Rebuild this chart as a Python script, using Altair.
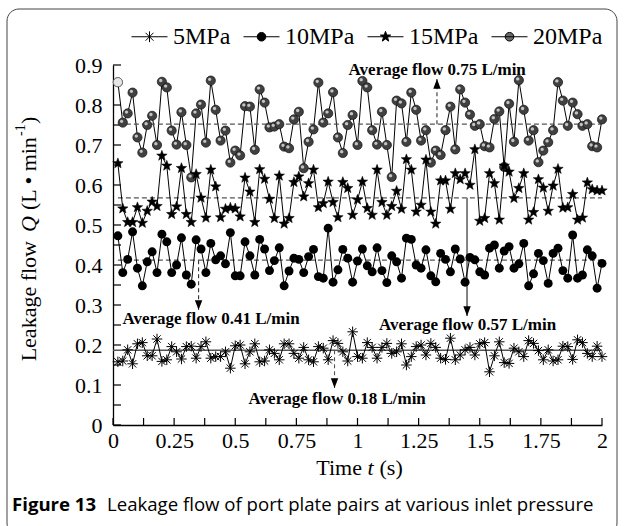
import math
import altair as alt
import pandas as pd

# ---------------- data ----------------
t_s = [round(0.02 * k, 2) for k in range(1, 101)]

q_5 = [0.158, 0.160, 0.188, 0.153, 0.203, 0.206, 0.173, 0.173, 0.215, 0.159,
       0.163, 0.196, 0.183, 0.165, 0.196, 0.197, 0.167, 0.196, 0.208, 0.167,
       0.171, 0.171, 0.183, 0.142, 0.198, 0.200, 0.153, 0.183, 0.203, 0.158,
       0.160, 0.188, 0.179, 0.163, 0.203, 0.203, 0.179, 0.167, 0.194, 0.163,
       0.158, 0.196, 0.192, 0.163, 0.211, 0.204, 0.183, 0.160, 0.233, 0.171,
       0.167, 0.206, 0.194, 0.167, 0.194, 0.204, 0.179, 0.183, 0.203, 0.150,
       0.171, 0.196, 0.200, 0.175, 0.204, 0.194, 0.167, 0.164, 0.217, 0.163,
       0.175, 0.188, 0.194, 0.175, 0.203, 0.206, 0.133, 0.173, 0.208, 0.156,
       0.154, 0.192, 0.183, 0.171, 0.211, 0.204, 0.186, 0.163, 0.188, 0.160,
       0.163, 0.197, 0.196, 0.164, 0.213, 0.206, 0.179, 0.171, 0.197, 0.171]

q_10 = [0.473, 0.381, 0.414, 0.483, 0.392, 0.348, 0.408, 0.433, 0.381, 0.477,
        0.458, 0.381, 0.400, 0.468, 0.375, 0.352, 0.463, 0.440, 0.381, 0.454,
        0.413, 0.423, 0.403, 0.481, 0.373, 0.373, 0.458, 0.423, 0.375, 0.464,
        0.440, 0.386, 0.411, 0.443, 0.348, 0.385, 0.417, 0.414, 0.381, 0.421,
        0.439, 0.371, 0.367, 0.492, 0.357, 0.388, 0.439, 0.417, 0.357, 0.410,
        0.440, 0.398, 0.383, 0.443, 0.386, 0.356, 0.423, 0.408, 0.367, 0.467,
        0.464, 0.400, 0.392, 0.438, 0.373, 0.358, 0.429, 0.414, 0.383, 0.440,
        0.415, 0.357, 0.419, 0.413, 0.383, 0.375, 0.442, 0.450, 0.392, 0.435,
        0.446, 0.392, 0.403, 0.454, 0.348, 0.378, 0.429, 0.411, 0.354, 0.429,
        0.442, 0.386, 0.367, 0.475, 0.367, 0.375, 0.438, 0.423, 0.342, 0.404]

q_15 = [0.654, 0.541, 0.507, 0.507, 0.544, 0.505, 0.535, 0.558, 0.547, 0.673,
        0.648, 0.527, 0.546, 0.642, 0.527, 0.507, 0.627, 0.568, 0.518, 0.638,
        0.596, 0.519, 0.540, 0.543, 0.541, 0.521, 0.618, 0.583, 0.507, 0.639,
        0.615, 0.565, 0.517, 0.623, 0.503, 0.517, 0.607, 0.621, 0.571, 0.604,
        0.638, 0.544, 0.554, 0.608, 0.557, 0.519, 0.607, 0.592, 0.525, 0.563,
        0.608, 0.542, 0.525, 0.638, 0.557, 0.525, 0.547, 0.585, 0.540, 0.664,
        0.638, 0.533, 0.550, 0.663, 0.533, 0.503, 0.611, 0.611, 0.540, 0.629,
        0.614, 0.629, 0.600, 0.689, 0.510, 0.517, 0.629, 0.604, 0.513, 0.648,
        0.633, 0.567, 0.592, 0.629, 0.513, 0.532, 0.614, 0.593, 0.535, 0.598,
        0.640, 0.543, 0.544, 0.577, 0.513, 0.518, 0.606, 0.589, 0.586, 0.586]

q_20 = [0.857, 0.756, 0.779, 0.831, 0.719, 0.681, 0.750, 0.773, 0.700, 0.858,
        0.844, 0.736, 0.701, 0.782, 0.700, 0.619, 0.779, 0.801, 0.706, 0.861,
        0.788, 0.711, 0.736, 0.656, 0.686, 0.674, 0.797, 0.796, 0.688, 0.839,
        0.806, 0.744, 0.746, 0.752, 0.696, 0.692, 0.764, 0.783, 0.642, 0.708,
        0.739, 0.856, 0.756, 0.779, 0.832, 0.719, 0.680, 0.750, 0.775, 0.700,
        0.860, 0.844, 0.737, 0.701, 0.783, 0.700, 0.620, 0.811, 0.804, 0.708,
        0.831, 0.788, 0.711, 0.737, 0.656, 0.686, 0.675, 0.737, 0.796, 0.689,
        0.839, 0.806, 0.776, 0.748, 0.752, 0.697, 0.694, 0.765, 0.784, 0.645,
        0.803, 0.708, 0.862, 0.788, 0.711, 0.737, 0.657, 0.686, 0.707, 0.737,
        0.857, 0.811, 0.748, 0.806, 0.777, 0.748, 0.752, 0.697, 0.694, 0.764]

series = ["5MPa", "10MPa", "15MPa", "20MPa"]

avg_series = ["5MPa", "10MPa", "15MPa", "20MPa"]
avg_values = [0.187, 0.412, 0.568, 0.752]
avg_t0 = [0.0, 0.02, 0.02, 0.02]
avg_t1 = [2.0, 2.0, 2.0, 2.0]

ann_labels = ["Average flow 0.18 L/min", "Average flow 0.41 L/min",
              "Average flow 0.57 L/min", "Average flow 0.75 L/min"]
ann_tx = [0.917, 0.401, 1.45, 1.326]
ann_ty = [0.066, 0.264, 0.250, 0.8875]
arrow_t = [0.906, 0.350, 1.448, 1.325]
arrow_from = [0.187, 0.412, 0.568, 0.752]
arrow_tip = [0.0925, 0.2875, 0.2725, 0.865]

x_label_vals = [0, 0.25, 0.5, 0.75, 1, 1.25, 1.5, 1.75, 2]
x_tick_vals = [round(0.125 * i, 3) for i in range(17)]
y_label_vals = [round(0.1 * i, 1) for i in range(10)]
y_tick_vals = [round(0.05 * i, 2) for i in range(19)]

# ---------------- frames ----------------
frames = [pd.DataFrame({"t": t_s, "q": v, "series": n})
          for n, v in zip(series, [q_5, q_10, q_15, q_20])]
df = pd.concat(frames, ignore_index=True)

avg_df = pd.DataFrame({"series": avg_series, "q": avg_values, "t0": avg_t0, "t1": avg_t1})
ann_df = pd.DataFrame({"label": ann_labels, "tx": ann_tx, "ty": ann_ty,
                       "at": arrow_t, "a0": arrow_from, "a1": arrow_tip,
                       "key": series})

W, H = 489, 360
LEFT, TOP = 113, 65
SERIF = "Liberation Serif"

xs = alt.Scale(domain=[0, 2], nice=False, zero=False)
ys = alt.Scale(domain=[0, 0.9], nice=False, zero=False)

XAX = alt.Axis(values=x_label_vals, format=".2~f", ticks=False, tickSize=0,
               labelPadding=5, domain=True, domainColor="black", domainWidth=1.3,
               title=None, labelFlush=False, labelOverlap=False, grid=False,
               orient="bottom")
YAX = alt.Axis(values=y_label_vals, format=".1~f", ticks=False, tickSize=0,
               labelPadding=11, domain=True, domainColor="black", domainWidth=1.3,
               title=None, labelFlush=False, labelOverlap=False, grid=False,
               orient="left")


def X(field):
    return alt.X(field, scale=xs, axis=XAX)


def Y(field):
    return alt.Y(field, scale=ys, axis=YAX)


def xy():
    return dict(x=X("t:Q"), y=Y("q:Q"))


base = alt.Chart(df)


def sub(name):
    return base.transform_filter(alt.datum.series == name)


def circ(r, cx=0.0, cy=0.0):
    return (f"M{cx - r:.3f},{cy:.3f}A{r},{r} 0 1 0 {cx + r:.3f},{cy:.3f}"
            f"A{r},{r} 0 1 0 {cx - r:.3f},{cy:.3f}Z")


def star_path(ro, ri):
    pts = []
    for i in range(10):
        r = ro if i % 2 == 0 else ri
        a = -math.pi / 2 + i * math.pi / 5
        pts.append(f"{r * math.cos(a):.3f},{r * math.sin(a):.3f}")
    return "M" + "L".join(pts) + "Z"


asterisk = "M-1,0H1M0,-1V1M-0.7,-0.7L0.7,0.7M-0.7,0.7L0.7,-0.7"
highlight = circ(0.36, -0.25, -0.28)
star_shape = star_path(1.0, 0.42)

# inward ticks as rules at the tick values
xtick_df = pd.DataFrame({"v": x_tick_vals})
ytick_df = pd.DataFrame({"v": y_tick_vals})
xticks = alt.Chart(xtick_df).mark_rule(color="black", strokeWidth=1.2).encode(
    x=X("v:Q"), y=alt.value(H), y2=alt.value(H - 7))
yticks = alt.Chart(ytick_df).mark_rule(color="black", strokeWidth=1.2).encode(
    y=Y("v:Q"), x=alt.value(0), x2=alt.value(8))

line20 = sub("20MPa").mark_line(color="black", strokeWidth=1).encode(**xy())
pts20 = sub("20MPa").mark_point(shape="circle", filled=True, fill="#404040", stroke="#111",
                                strokeWidth=0.7, size=85, opacity=1).encode(**xy())
hl20 = sub("20MPa").mark_point(shape=highlight, filled=True, fill="#c4c4c4", strokeWidth=0,
                               size=85, opacity=1).encode(**xy())
first20 = sub("20MPa").transform_filter(alt.datum.t < 0.03).mark_point(
    shape="circle", filled=True, fill="#e6e6e6", stroke="#777", strokeWidth=1, size=85,
    opacity=1).encode(**xy())
line15 = sub("15MPa").mark_line(color="black", strokeWidth=1).encode(**xy())
pts15 = sub("15MPa").mark_point(shape=star_shape, filled=True, fill="black", stroke="black",
                                strokeWidth=0.5, size=121, opacity=1).encode(**xy())
line10 = sub("10MPa").mark_line(color="black", strokeWidth=1).encode(**xy())
pts10 = sub("10MPa").mark_point(shape="circle", filled=True, fill="black", size=80,
                                opacity=1).encode(**xy())
line5 = sub("5MPa").mark_line(color="black", strokeWidth=1).encode(**xy())
pts5 = sub("5MPa").mark_point(shape=asterisk, filled=False, stroke="black", strokeWidth=1,
                              size=110, opacity=1).encode(**xy())

# average lines
avg_base = alt.Chart(avg_df)
avg_dashed = avg_base.transform_filter(alt.datum.series != "5MPa").mark_rule(
    color="#555", strokeWidth=1.3, strokeDash=[5, 3]).encode(
    x=X("t0:Q"), x2="t1:Q", y=Y("q:Q"))
avg_solid = avg_base.transform_filter(alt.datum.series == "5MPa").mark_rule(
    color="#555", strokeWidth=1.6).encode(
    x=X("t0:Q"), x2="t1:Q", y=Y("q:Q"))

# annotation arrows
ann_base = alt.Chart(ann_df)
arrow_enc = dict(x=X("at:Q"), y=Y("a0:Q"), y2="a1:Q")
arr_dash_dark = ann_base.transform_filter(
    (alt.datum.key == "10MPa") | (alt.datum.key == "20MPa")).mark_rule(
    color="#333", strokeWidth=1.1, strokeDash=[4, 3]).encode(**arrow_enc)
arr_dash_gray = ann_base.transform_filter(alt.datum.key == "5MPa").mark_rule(
    color="#555", strokeWidth=1.1, strokeDash=[4, 3]).encode(**arrow_enc)
arr_solid = ann_base.transform_filter(alt.datum.key == "15MPa").mark_rule(
    color="#808080", strokeWidth=2).encode(**arrow_enc)
head_down = ann_base.transform_filter(alt.datum.key != "20MPa").mark_point(
    shape="M0,0L-0.38,-1L0.38,-1Z", filled=True, fill="black", size=380, opacity=1).encode(
    x=X("at:Q"), y=Y("a1:Q"))
head_up = ann_base.transform_filter(alt.datum.key == "20MPa").mark_point(
    shape="M0,0L-0.38,1L0.38,1Z", filled=True, fill="black", size=380, opacity=1).encode(
    x=X("at:Q"), y=Y("a1:Q"))
ann_text = ann_base.mark_text(font=SERIF, fontSize=17, fontWeight="bold", color="black",
                              align="center", baseline="middle").encode(
    x=X("tx:Q"), y=Y("ty:Q"), text="label:N")

# legend (built by Vega-Lite from shape / fill / stroke scales)
leg_line = "M-1,0H1"
legend_paths = [
    leg_line + "M0,-0.3V0.3M-0.22,-0.22L0.22,0.22M-0.22,0.22L0.22,-0.22",
    leg_line + circ(0.24),
    leg_line + star_path(0.3, 0.12),
    leg_line + circ(0.24),
]
legend_fills = ["black", "black", "black", "#6a6a6a"]
leg_props = dict(title=None, orient="none", legendX=18, legendY=-47, direction="horizontal",
                 columns=4, symbolSize=1296, symbolStrokeWidth=1,
                 labelFont=SERIF, labelFontSize=24, labelColor="black", labelOffset=5,
                 columnPadding=10, padding=0, symbolOpacity=1)
legend_layer = alt.Chart(pd.DataFrame({"series": series})).mark_point(
    filled=True, strokeWidth=1, opacity=1).encode(
    x=alt.value(-700), y=alt.value(-700),
    shape=alt.Shape("series:N", scale=alt.Scale(domain=series, range=legend_paths),
                    legend=alt.Legend(**leg_props)),
    fill=alt.Fill("series:N", scale=alt.Scale(domain=series, range=legend_fills),
                  legend=alt.Legend(**leg_props)),
    stroke=alt.Stroke("series:N", scale=alt.Scale(domain=series, range=["black"] * 4),
                      legend=alt.Legend(**leg_props)),
)


# titles, caption, frame
def txt(s, x, y, size, font=SERIF, **kw):
    return alt.Chart(pd.DataFrame({"s": [s]})).mark_text(
        text=s, font=font, fontSize=size, color="black", **kw).encode(
        x=alt.value(x - LEFT), y=alt.value(y - TOP))


ttl = 22
xt = [
    txt("Time", 362, 468, ttl, align="right", baseline="middle"),
    txt("t", 370.5, 468, ttl, align="center", baseline="middle", fontStyle="italic"),
    txt("(s)", 379.5, 468, ttl, align="left", baseline="middle"),
]
ycx = 29
yt = [
    txt("Leakage flow", ycx, 241, ttl, align="right", baseline="middle", angle=270),
    txt("Q", ycx, 224, ttl, align="center", baseline="middle", angle=270, fontStyle="italic"),
    txt("(L • min", ycx, 210, ttl, align="left", baseline="middle", angle=270),
    txt("-1", ycx - 8, 136, 14, align="left", baseline="middle", angle=270),
    txt(")", ycx, 124, ttl, align="left", baseline="middle", angle=270),
]
cap = [
    txt("Figure 13", 12, 505, 18.6, font="Open Sans", align="left", baseline="middle",
        fontWeight="bold"),
    txt("Leakage flow of port plate pairs at various inlet pressure", 107, 505, 18.6,
        font="Open Sans", align="left", baseline="middle"),
]
frame = alt.Chart(pd.DataFrame({"a": [0]})).mark_rect(
    fill="transparent", stroke="#444", strokeWidth=1, cornerRadius=12).encode(
    x=alt.value(7 - LEFT), x2=alt.value(617 - LEFT),
    y=alt.value(9 - TOP), y2=alt.value(535 - TOP))

chart = alt.layer(
    line20, frame, xticks, yticks,
    avg_dashed, avg_solid,
    arr_dash_dark, arr_dash_gray, arr_solid, head_down, head_up,
    pts20, hl20, first20,
    line15, pts15,
    line10, pts10,
    line5, pts5,
    ann_text, legend_layer,
    *xt, *yt, *cap,
).properties(
    width=W, height=H,
    autosize=alt.AutoSizeParams(type="none"),
    padding={"left": LEFT, "top": TOP, "right": 624 - LEFT - W, "bottom": 526 - TOP - H},
    background="white",
).configure_view(strokeWidth=0).configure_axis(
    labelFont=SERIF, labelFontSize=22, labelColor="black",
    domainColor="black", tickColor="black",
)

chart.save("out.html", embed_options={"renderer": "svg", "actions": False})
